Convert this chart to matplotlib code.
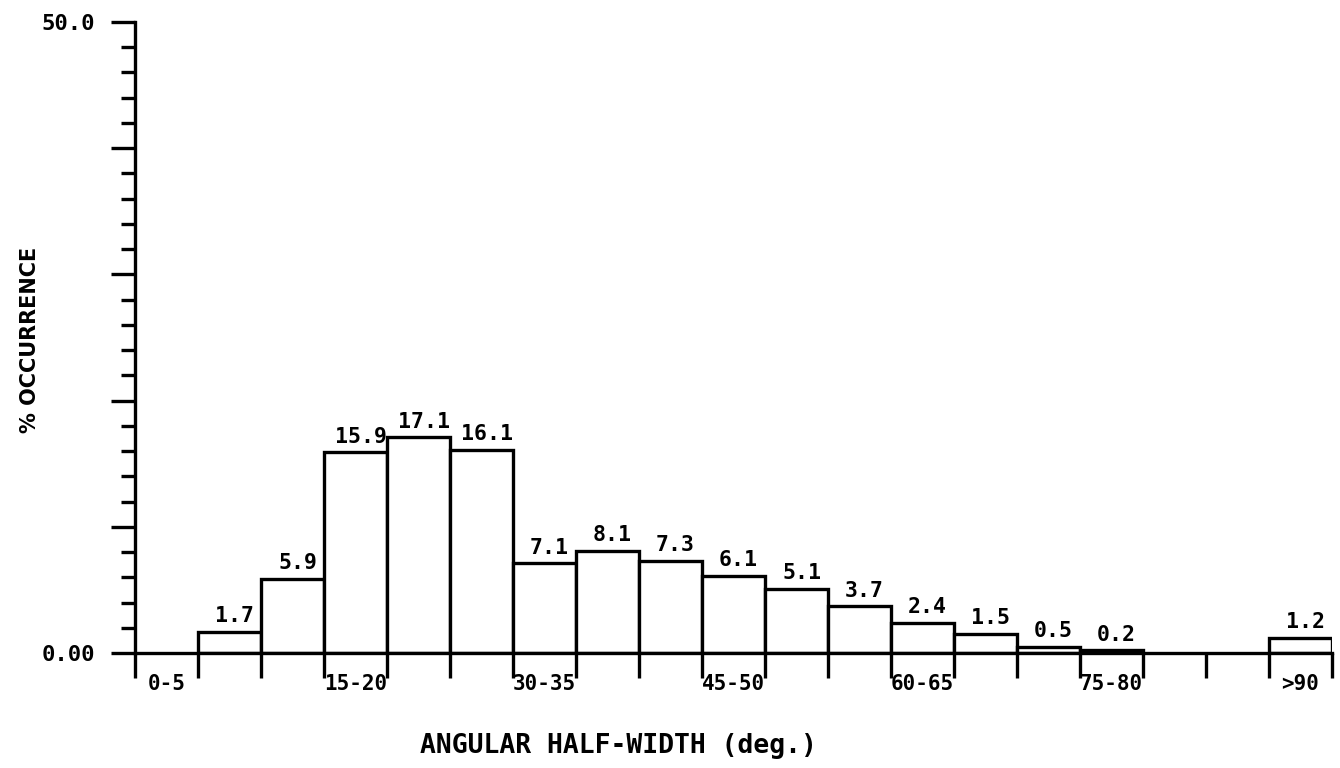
import matplotlib
matplotlib.use("Agg")
import matplotlib.pyplot as plt
from matplotlib.ticker import MultipleLocator

# angular half-width bins (deg.) and % occurrence (None = no bar drawn)
bins = ["0-5", "5-10", "10-15", "15-20", "20-25", "25-30", "30-35", "35-40",
        "40-45", "45-50", "50-55", "55-60", "60-65", "65-70", "70-75", "75-80",
        "80-85", "85-90", ">90"]
occurrence = [None, 1.7, 5.9, 15.9, 17.1, 16.1, 7.1, 8.1, 7.3, 6.1, 5.1, 3.7,
              2.4, 1.5, 0.5, 0.2, None, None, 1.2]
shown_labels = ["0-5", "15-20", "30-35", "45-50", "60-65", "75-80", ">90"]

MONO = dict(family="DejaVu Sans Mono", fontweight="bold")
SANS = dict(family="DejaVu Sans", fontweight="bold")
LW = 2.4

fig = plt.figure(figsize=(13.4, 7.68), dpi=100)
ax = fig.add_axes([135 / 1340, 1 - 653 / 768, (1332 - 135) / 1340, (653 - 22) / 768])

for i, v in enumerate(occurrence):
    if v is None:
        continue
    ax.bar(i, v, width=1.0, align="edge", facecolor="white", edgecolor="black",
           linewidth=LW, zorder=2)
    ax.text(i + 0.58, v + 0.45, f"{v:.1f}", ha="center", va="bottom",
            fontsize=15.5, color="black", **MONO)

ax.set_xlim(0, len(bins))
ax.set_ylim(0, 50)

for side in ("top", "right"):
    ax.spines[side].set_visible(False)
for side in ("left", "bottom"):
    ax.spines[side].set_linewidth(LW)

# x ticks at every bin edge, labels on every third bin centre
ax.set_xticks(range(len(bins) + 1))
ax.set_xticklabels([])
ax.tick_params(axis="x", which="major", direction="out", length=18, width=LW)
centres = [bins.index(b) + 0.5 for b in shown_labels]
ax.set_xticks(centres, minor=True)
ax.set_xticklabels(shown_labels, minor=True, fontsize=15, **MONO)
ax.tick_params(axis="x", which="minor", length=0, pad=15)

ax.set_yticks([0, 10, 20, 30, 40, 50])
ax.set_yticklabels(["0.00", "", "", "", "", "50.0"], fontsize=16, **MONO)
ax.yaxis.set_minor_locator(MultipleLocator(2))
ax.tick_params(axis="y", which="major", direction="out", length=17, width=LW, pad=12)
ax.tick_params(axis="y", which="minor", direction="out", length=10, width=LW)

fig.text(618 / 1340, 1 - 746 / 768, "ANGULAR HALF-WIDTH (deg.)", ha="center",
         va="center", fontsize=19, **MONO)
fig.text(30 / 1340, 1 - 340 / 768, "% OCCURRENCE", ha="center", va="center",
         rotation=90, fontsize=15, **SANS)

fig.savefig("out.png", dpi=100)
